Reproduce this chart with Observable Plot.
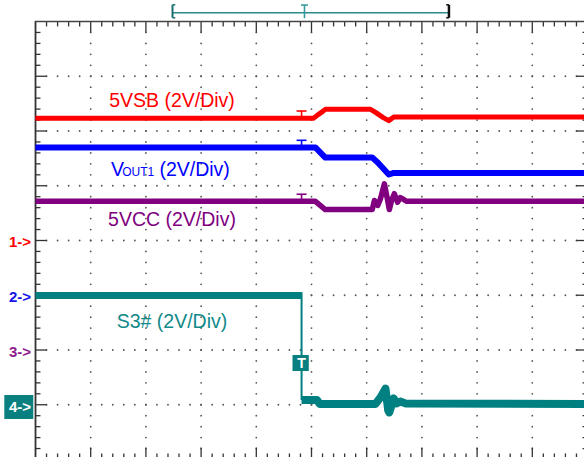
<!DOCTYPE html>
<html><head><meta charset="utf-8">
<script src="https://cdn.jsdelivr.net/npm/d3@7"></script>
<script src="https://cdn.jsdelivr.net/npm/@observablehq/plot@0.6"></script>
<style>html,body{margin:0;padding:0;background:#fff;overflow:hidden}</style>
</head><body><div id="chart"></div>
<script>
// Time in screen divisions (10 across), voltages in volts (2 V/div)
const channelNames = ["5VSB", "VOUT1", "5VCC", "S3#"];
const channelColors = ["#ff0000", "#0000ff", "#800080", "#008080"];
const channelGround = [4, 3, 2, 1]; // ground marker, divisions from bottom
const voltsPerDiv = 2;
const triggerTime = 4.82;

const vsbTime = [0, 5.04, 5.12, 5.2, 5.25, 6.07, 6.16, 6.3, 6.4, 6.49, 10];
const vsbVolts = [4.47, 4.47, 4.6, 4.71, 4.79, 4.79, 4.68, 4.49, 4.38, 4.51, 4.51];

const voutTime = [0, 5.07, 5.25, 6.1, 6.2, 6.3, 6.4, 6.49, 10];
const voutVolts = [5.40, 5.40, 5.03, 5.03, 4.85, 4.63, 4.41, 4.47, 4.47];

const vccTime = [0, 5.07, 5.25, 6.1, 6.14, 6.2, 6.25, 6.32, 6.38, 6.41, 6.45, 6.5, 6.56, 6.61, 6.67, 6.72, 10];
const vccVolts = [5.43, 5.43, 5.13, 5.13, 5.46, 5.28, 5.53, 6.07, 5.46, 5.13, 5.46, 5.71, 5.40, 5.57, 5.50, 5.43, 5.43];

const s3HighTime = [0, 4.82];
const s3HighVolts = [3.99, 3.99];
const s3LowTime = [4.82, 5.1, 5.15, 6.16, 6.25, 6.34, 6.39, 6.41, 6.49, 6.54, 6.61, 6.7, 10];
const s3LowVolts = [0.17, 0.17, 0.03, 0.03, 0.27, 0.59, -0.21, -0.28, 0.23, 0.05, 0.12, 0.05, 0.03];

const markerLabels = ["1->", "2->", "3->", "4->"];

const toDiv = (ch, v) => channelGround[ch] + v / voltsPerDiv;
const series = (ch, ts, vs) => ts.map((t, i) => ({t, y: toDiv(ch, vs[i])}));

const vsb = series(0, vsbTime, vsbVolts);
const vout = series(1, voutTime, voutVolts);
const vcc = series(2, vccTime, vccVolts);
const s3High = series(3, s3HighTime, s3HighVolts);
const s3Low = series(3, s3LowTime, s3LowVolts);

// graticule
const dots = [];
for (let j = 1; j <= 7; j++) for (let i = 1; i < 50; i++) dots.push({t: i / 5, y: j});
for (let i = 1; i <= 9; i++) for (let k = 1; k < 40; k++) dots.push({t: i, y: k / 5});
const ticks = [];
for (let i = 1; i < 50; i++) {
  const major = i % 5 === 0, t = i / 5;
  ticks.push({x1: t, x2: t, y1: 8, y2: 8 - (major ? 0.2 : 0.09)});
  ticks.push({x1: t, x2: t, y1: 0, y2: major ? 0.22 : 0.11});
}
for (let k = 1; k < 40; k++) {
  const major = k % 5 === 0, y = k / 5;
  ticks.push({x1: 0, x2: major ? 0.2 : 0.09, y1: y, y2: y});
  ticks.push({x1: 10, x2: 10 - (major ? 0.2 : 0.09), y1: y, y2: y});
}

// trigger "T" markers on the first three traces
const tLevels = [vsb[0].y, vout[0].y, vcc[0].y];
const tBars = tLevels.map((y, i) => ({x1: triggerTime - 0.09, x2: triggerTime + 0.09, y1: y + 0.13, y2: y + 0.13, c: channelColors[i]}));
const tStems = tLevels.map((y, i) => ({x1: triggerTime, x2: triggerTime, y1: y, y2: y + 0.13, c: channelColors[i]}));

const font = "Liberation Sans, Arial, sans-serif";
const labelX = 2.473;
const lbl = (text, y, c) => ({text, y, c});
const labels = [
  lbl("5VSB (2V/Div)", 6.561, channelColors[0]),
  lbl("5VCC (2V/Div)", 4.387, channelColors[2]),
  lbl("S3# (2V/Div)", 2.524, "#118a8a")
];

const markers = channelGround.map((g, i) => ({text: markerLabels[i], y: g, c: i === 3 ? "#fff" : ["#ff0000", "#1515e6", "#8e1a8e"][i]}));

const bracketY = 8.159, bracketL = 2.482, bracketR = 7.49;

const plot = Plot.plot({
  width: 584, height: 457,
  margin: 0,
  style: {background: "#fff", fontFamily: font},
  x: {domain: [0, 10], range: [35, 587], axis: null},
  y: {domain: [0, 8], range: [459, 21], axis: null},
  marks: [
    Plot.dot(dots, {x: "t", y: "y", r: 0.9, fill: "#555", stroke: null}),
    Plot.link(ticks, {x1: "x1", x2: "x2", y1: "y1", y2: "y2", stroke: "#333", strokeWidth: 1.3}),
    Plot.ruleX([0, 10], {y1: 0, y2: 8, stroke: "#333", strokeWidth: 1.8}),
    Plot.ruleY([0, 8], {x1: 0, x2: 10, stroke: "#444", strokeWidth: 1.4}),
    // traces
    Plot.line(vsb, {x: "t", y: "y", stroke: channelColors[0], strokeWidth: 5, strokeLinecap: "butt"}),
    Plot.line(vout, {x: "t", y: "y", stroke: channelColors[1], strokeWidth: 6, strokeLinecap: "butt"}),
    Plot.line(vcc, {x: "t", y: "y", stroke: channelColors[2], strokeWidth: 5.5, strokeLinecap: "butt"}),
    Plot.line(s3High, {x: "t", y: "y", stroke: channelColors[3], strokeWidth: 7, strokeLinecap: "butt"}),
    Plot.line(s3Low, {x: "t", y: "y", stroke: channelColors[3], strokeWidth: 8, strokeLinecap: "butt"}),
    Plot.link([{}], {x1: triggerTime, x2: triggerTime, y1: s3High[1].y + 0.06, y2: s3Low[0].y, stroke: channelColors[3], strokeWidth: 2}),
    Plot.link(tBars, {x1: "x1", x2: "x2", y1: "y1", y2: "y2", stroke: "c", strokeWidth: 1.6}),
    Plot.link(tStems, {x1: "x1", x2: "x2", y1: "y1", y2: "y2", stroke: "c", strokeWidth: 1.6}),
    // labels
    Plot.text(labels, {x: labelX, y: "y", text: "text", fill: "c", fontSize: 19.5, fontFamily: font, textAnchor: "middle"}),
    Plot.text(["V"], {x: 1.368, y: 5.300, text: d => d, fill: channelColors[1], fontSize: 19.5, fontFamily: font, textAnchor: "start"}),
    Plot.text(["OUT1"], {x: 1.572, y: 5.255, text: d => d, fill: channelColors[1], fontSize: 12, fontFamily: font, textAnchor: "start"}),
    Plot.text(["(2V/Div)"], {x: 2.245, y: 5.300, text: d => d, fill: channelColors[1], fontSize: 19.5, fontFamily: font, textAnchor: "start"}),
    // ground markers
    Plot.rect([{}], {x1: -0.556, x2: -0.031, y1: channelGround[3] - 0.269, y2: channelGround[3] + 0.169, fill: "#0a7f7f"}),
    Plot.text(markers, {x: -0.08, y: "y", text: "text", fill: "c", fontSize: 15, fontWeight: "bold", fontFamily: font, textAnchor: "end", dy: 2}),
    // trigger box
    Plot.rect([{}], {x1: 4.665, x2: 4.96, y1: 1.607, y2: 1.90, fill: "#0a7f7f"}),
    Plot.text(["T"], {x: triggerTime, y: 1.753, text: d => d, fill: "#fff", fontSize: 14, fontWeight: "bold", fontFamily: font}),
    // top bracket
    Plot.link([{}], {x1: bracketL, x2: bracketR, y1: bracketY, y2: bracketY, stroke: "#2a8c8c", strokeWidth: 1.5}),
    Plot.link([{}], {x1: bracketL, x2: bracketL, y1: 8.068, y2: 8.305, stroke: "#1d6f6f", strokeWidth: 2}),
    Plot.link([{x1: bracketL, x2: bracketL + 0.05, y: 8.068}, {x1: bracketL, x2: bracketL + 0.05, y: 8.305}], {x1: "x1", x2: "x2", y1: "y", y2: "y", stroke: "#1d6f6f", strokeWidth: 1.5}),
    Plot.link([{}], {x1: bracketR, x2: bracketR, y1: 8.068, y2: 8.305, stroke: "#111", strokeWidth: 2.5}),
    Plot.link([{x1: bracketR, x2: bracketR - 0.05, y: 8.068}, {x1: bracketR, x2: bracketR - 0.05, y: 8.305}], {x1: "x1", x2: "x2", y1: "y", y2: "y", stroke: "#111", strokeWidth: 1.5}),
    Plot.link([{}], {x1: 4.873, x2: 4.873, y1: 8.06, y2: 8.30, stroke: "#3a9a9a", strokeWidth: 1.6}),
    Plot.link([{}], {x1: 4.81, x2: 4.936, y1: 8.30, y2: 8.30, stroke: "#3a9a9a", strokeWidth: 1.6})
  ]
});
document.getElementById("chart").appendChild(plot);
</script>
</body></html>
